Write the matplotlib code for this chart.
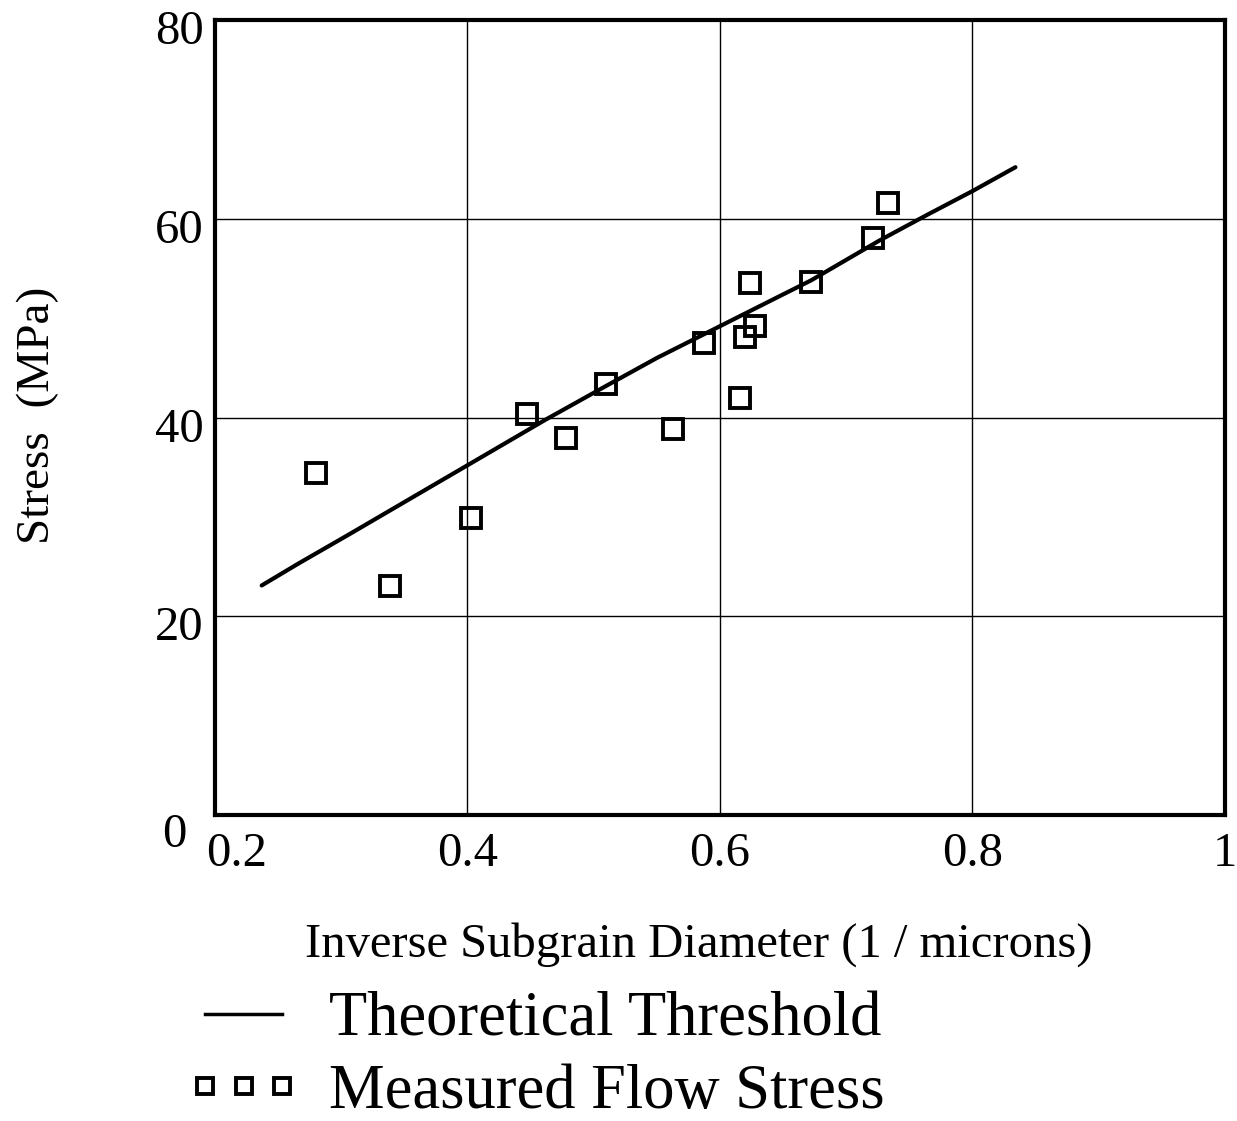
import matplotlib
matplotlib.use("Agg")
import matplotlib.pyplot as plt
import matplotlib.transforms as mtransforms
from matplotlib.lines import Line2D

plt.rcParams['font.family'] = ['Liberation Serif', 'DejaVu Serif']

# Measured flow stress points
measured_x = [0.280, 0.339, 0.403, 0.447, 0.478, 0.510, 0.563, 0.587, 0.616, 0.620, 0.628, 0.624, 0.672, 0.721, 0.733]
measured_y = [34.4, 23.0, 29.9, 40.4, 37.9, 43.4, 38.9, 47.5, 42.0, 48.1, 49.2, 53.5, 53.6, 58.1, 61.6]

# Theoretical threshold curve (read points)
theory_x = [0.237, 0.266, 0.307, 0.373, 0.400, 0.462, 0.486, 0.510, 0.550, 0.600, 0.650, 0.672, 0.726, 0.764, 0.800, 0.834]
theory_y = [23.1, 25.3, 28.3, 33.2, 35.2, 39.8, 41.5, 43.2, 46.0, 49.2, 52.4, 53.8, 57.8, 60.4, 62.8, 65.2]

x_ticks = [0.2, 0.4, 0.6, 0.8, 1.0]
x_tick_labels = ['0.2', '0.4', '0.6', '0.8', '1']
y_ticks = [0, 20, 40, 60, 80]
y_tick_labels = ['0', '20', '40', '60', '80']

fig = plt.figure(figsize=(12.37, 11.21), dpi=100)
ax = fig.add_axes([0.1738, 0.273, 0.8165, 0.709])

ax.plot(theory_x, theory_y, color='black', lw=3.0, solid_capstyle='round',
        solid_joinstyle='round', zorder=3)
ax.plot(measured_x, measured_y, linestyle='none', marker='s', markersize=15,
        markerfacecolor='none', markeredgecolor='black', markeredgewidth=2.8, zorder=4)

ax.set_xlim(0.2, 1.0)
ax.set_ylim(0, 80)
ax.set_xticks(x_ticks)
ax.set_xticklabels(x_tick_labels)
ax.set_yticks(y_ticks)
ax.set_yticklabels(y_tick_labels)
ax.tick_params(axis='both', length=0, labelsize=35)
ax.tick_params(axis='x', pad=12)
ax.tick_params(axis='y', pad=8)
ax.grid(True, color='black', lw=1.0)
ax.set_axisbelow(True)
for side in ['left', 'bottom', 'top', 'right']:
    ax.spines[side].set_linewidth(3.0)

# small label offsets as in the original
def shift(lbl, dx_px, dy_px):
    off = mtransforms.ScaledTranslation(dx_px / 100.0, dy_px / 100.0, fig.dpi_scale_trans)
    lbl.set_transform(lbl.get_transform() + off)

xl = ax.get_xticklabels()
shift(xl[0], 22, 0)
yl = ax.get_yticklabels()
shift(yl[0], -17, -15)
for lbl in yl[1:]:
    shift(lbl, 0, -7)

ax.set_xlabel('Inverse Subgrain Diameter (1 / microns)', fontsize=35)
ax.xaxis.set_label_coords((699 - 215) / 1010.0, -(945 - 815) / 795.0)
ax.xaxis.label.set_va('center')
ax.set_ylabel('Stress  (MPa)', fontsize=34)
ax.yaxis.set_label_coords(-(215 - 38) / 1010.0, (815 - 415) / 795.0)
ax.yaxis.label.set_va('center')

handles = [
    Line2D([], [], color='black', lw=2.5),
    Line2D([], [], linestyle='none', marker='s', markersize=12,
           markerfacecolor='none', markeredgecolor='black', markeredgewidth=2.8),
]
fig.legend(handles, ['Theoretical Threshold', 'Measured Flow Stress'],
           loc='upper left', bbox_to_anchor=(0.1257, 0.143), frameon=False,
           fontsize=45, numpoints=3, handlelength=1.83, handletextpad=0.45,
           labelspacing=0.22, borderpad=0)

fig.savefig('out.png', dpi=100)
